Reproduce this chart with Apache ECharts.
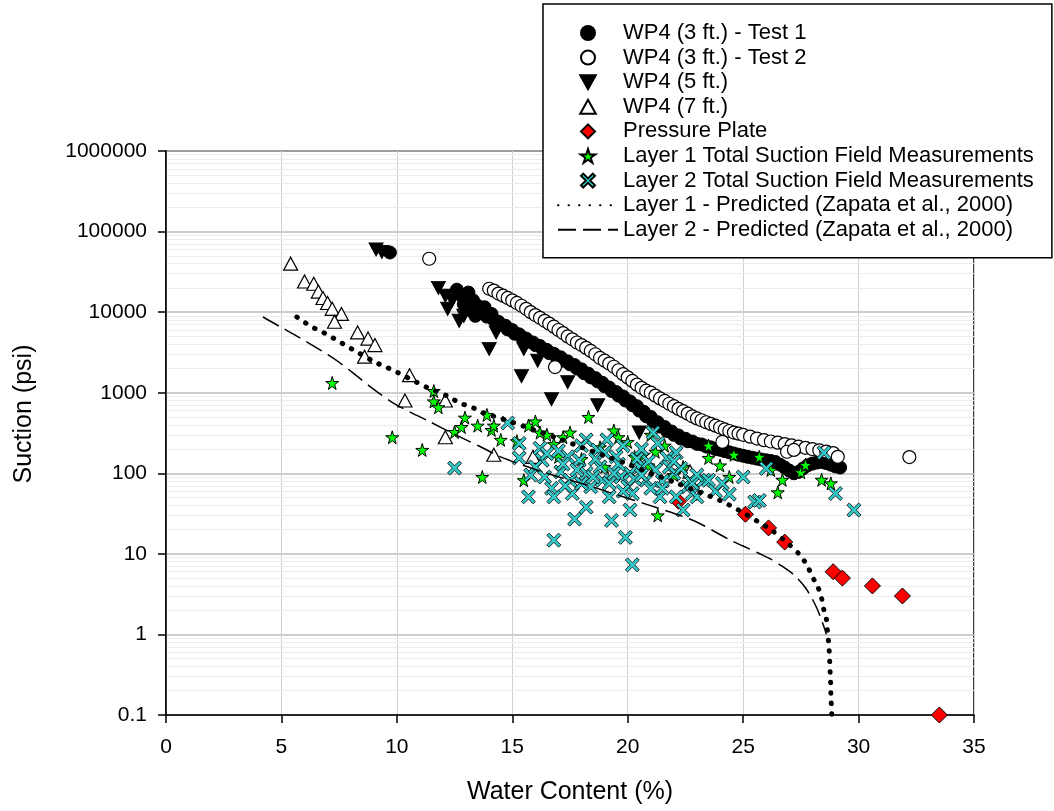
<!DOCTYPE html>
<html>
<head>
<meta charset="utf-8">
<script src="https://cdn.jsdelivr.net/npm/echarts@6/dist/echarts.min.js"></script>
<style>
html,body{margin:0;padding:0;background:#fff;}
#chart{width:1054px;height:811px;}
</style>
</head>
<body>
<div id="chart"></div>
<script>
// ---------- data ----------
const seriesNames = [
  'WP4 (3 ft.) - Test 1',
  'WP4 (3 ft.) - Test 2',
  'WP4 (5 ft.)',
  'WP4 (7 ft.)',
  'Pressure Plate',
  'Layer 1 Total Suction Field Measurements',
  'Layer 2 Total Suction Field Measurements',
  'Layer 1 - Predicted (Zapata et al., 2000)',
  'Layer 2 - Predicted (Zapata et al., 2000)'
];
const xTickLabels = ['0','5','10','15','20','25','30','35'];
const yTickLabels = ['0.1','1','10','100','1000','10000','100000','1000000'];

const wp4Test1 = [
  [9.7,55000],
  [12.6,19000],[12.8,16000],[12.9,12500],[13.1,17500],[13.2,10500],[13.3,14000],[13.4,9000],[13.5,12000],[13.6,10000],
  [13.8,11500],[13.9,8800],[14.1,9500],[14.2,8000],[14.4,7600],[14.5,7000],[14.7,6800],[14.8,6100],[15.0,6000],[15.1,5400],
  [15.3,5300],[15.4,4900],[15.6,4700],[15.7,4300],[15.9,4200],[16.0,3900],[16.2,3800],[16.3,3500],[16.5,3400],[16.6,3100],
  [16.8,3050],[16.9,2800],[17.1,2750],[17.2,2500],[17.4,2450],[17.5,2250],[17.7,2200],[17.8,2000],[18.0,1950],[18.1,1750],
  [18.3,1720],[18.4,1550],[18.6,1520],[18.7,1380],[18.9,1330],[19.0,1200],[19.2,1160],[19.3,1050],[19.5,1020],[19.6,920],
  [19.8,900],[19.9,800],[20.1,780],[20.2,700],[20.4,680],[20.5,600],[20.7,580],[20.8,510],[21.0,500],[21.1,440],
  [21.3,430],[21.4,380],[21.6,375],[21.7,335],[21.9,330],[22.0,300],[22.2,295],[22.3,270],[22.5,268],[22.6,250],
  [22.8,248],[23.0,232],[23.2,228],[23.4,215],[23.6,210],[23.8,200],[24.0,196],[24.2,188],[24.4,182],[24.6,176],
  [24.8,170],[25.0,165],[25.2,160],[25.4,156],[25.6,152],[25.8,148],[26.0,145],[26.2,142],[26.4,138],[26.6,128],
  [26.8,118],[27.0,108],[27.2,100],[27.4,104],[27.6,115],[27.8,126],[28.0,132],[28.2,136],[28.4,138],[28.6,134],
  [28.8,128],[29.0,122],[29.2,118]
];
const wp4Test2 = [
  [11.4,46000],
  [14.0,19500],[14.2,18500],[14.4,17000],[14.6,16000],[14.8,15000],[15.0,14000],[15.2,13000],[15.4,12000],[15.6,11000],
  [15.8,10000],[16.0,9200],[16.2,8500],[16.4,7800],[16.6,7200],[16.8,6600],[17.0,6000],[17.2,5500],[17.4,5000],[17.6,4600],
  [17.8,4200],[18.0,3900],[18.2,3600],[18.4,3300],[18.6,3000],[18.8,2700],[19.0,2500],[19.2,2300],[19.4,2100],[19.6,1900],
  [19.8,1700],[20.0,1550],[20.2,1400],[20.4,1260],[20.6,1150],[20.8,1060],[21.0,1000],[21.2,920],[21.4,850],[21.6,790],
  [21.8,730],[22.0,680],[22.2,630],[22.4,590],[22.6,550],[22.8,510],[23.0,480],[23.2,455],[23.4,430],[23.6,410],
  [23.8,390],[24.0,370],[24.2,350],[24.4,335],[24.6,320],[24.8,310],[25.0,300],[25.3,285],[25.6,270],[25.9,258],
  [26.2,248],[26.5,240],[26.8,230],[27.1,222],[27.4,214],[27.7,207],[28.0,200],[28.3,193],[28.6,186],[28.9,178],
  [29.1,160],
  [16.85,2080],[24.1,245],[26.9,185],[27.2,195],[32.2,159]
];
const wp4Ft5 = [
  [9.1,60000],[9.35,56000],[11.8,20000],[12.1,16000],[12.4,14000],[12.2,11000],[12.9,9000],[12.7,7800],
  [14.3,5600],[14.0,3500],[15.5,3500],[16.1,2500],[15.4,1600],[16.7,830],[17.4,1350],[18.7,700],[20.5,320]
];
const wp4Ft7 = [
  [5.4,40000],[6.0,24000],[6.4,22500],[6.6,18000],[6.8,15000],[7.0,13000],[7.2,11000],[7.6,9500],[7.3,7600],
  [8.3,5600],[8.75,4700],[9.05,3900],[8.6,2800],[10.55,1650],[10.35,800],[12.1,800],[12.1,280],[14.2,170],
  [15.9,160],[22.7,105]
];
const pressurePlate = [
  [22.2,45],[25.1,31],[26.1,21],[26.8,14],[28.9,6],[29.3,5],[30.6,4],[31.9,3],[33.5,0.1]
];
const layer1Field = [
  [7.2,1320],[9.8,280],[11.1,195],[11.6,1050],[11.6,780],[11.8,660],[12.5,325],[12.8,375],[12.95,490],[13.5,390],
  [13.7,90],[13.9,530],[14.1,345],[14.2,390],[14.5,260],[15.5,82],[15.7,390],[16.0,440],[16.2,320],[16.5,300],
  [17.0,160],[17.2,280],[17.5,320],[18.3,500],[19.4,340],[19.6,280],[20.0,245],[20.3,160],[20.7,170],[20.9,125],
  [21.2,185],[21.3,30],[21.6,220],[22.4,120],[23.5,220],[23.5,155],[24.0,125],[24.4,90],[24.6,170],[25.7,160],
  [26.2,110],[26.5,58],[26.7,83],[27.5,103],[27.7,127],[28.4,83],[28.8,75],
  [15.2,250],[16.8,230],[18.0,150],[18.8,210],[19.0,120],[21.0,300],[22.0,95]
];
const layer2Field = [
  [12.5,116],[14.8,420],[15.3,235],[15.3,155],[15.8,95],[15.7,51],[16.2,205],[16.3,145],[16.7,65],[16.8,51],
  [16.8,14.8],[17.1,104],[17.7,27],[18.2,260],[17.9,145],[17.5,82],[17.6,56],[18.2,100],[18.4,68],[18.8,120],
  [18.9,82],[19.1,260],[19.2,51],[19.3,26],[19.5,160],[19.7,90],[20.0,68],[20.1,35],[19.9,16],[20.2,7.3],
  [20.5,120],[20.8,82],[21.1,320],[21.3,235],[21.7,155],[22.1,180],[22.0,100],[22.6,68],[22.4,35],[22.8,56],
  [22.7,82],[21.4,51],[21.0,65],[20.2,56],[18.2,38],[17.4,160],[18.7,195],[19.4,100],[20.1,100],[22.3,115],
  [22.1,51],[22.8,75],[23.3,82],[23.5,82],[23.0,51],[24.4,55],[25.0,90],[25.5,44],[25.7,46],[26.0,115],
  [28.5,180],[29.0,56],[29.8,35],
  [17.2,130],[17.8,110],[18.0,75],[18.5,90],[18.6,150],[19.0,180],[19.2,75],[19.6,130],[19.8,60],[20.3,85],
  [20.4,150],[20.6,95],[20.9,140],[21.2,110],[21.5,80],[21.8,120],[22.0,140],[16.0,120],[16.5,175],[17.0,190],
  [17.3,70],[18.0,220],[19.8,220],[20.6,200],[21.5,65],[23.0,95],[23.8,60],[24.1,75],[16.4,90]
];
const layer1Predicted = [
  [5.67,8700],[6.3,6600],[6.67,5900],[7.0,5200],[7.4,4500],[7.75,3900],[8.2,3300],[9.05,2400],[9.5,2100],[10.0,1800],
  [10.9,1330],[11.35,1150],[12.3,880],[12.7,750],[13.25,660],[13.7,570],[15.0,430],[16.0,340],[17.0,270],[18.0,210],
  [19.0,165],[20.0,130],[21.0,100],[22.0,78],[23.0,60],[24.0,46],[24.8,35],[25.65,25],[26.2,20],[27.0,13],
  [27.5,9.4],[27.8,6.9],[28.0,5.2],[28.25,3.8],[28.4,2.8],[28.5,2.0],[28.6,1.6],[28.65,1.13],[28.7,0.8],[28.73,0.61],
  [28.75,0.46],[28.77,0.33],[28.79,0.25],[28.8,0.18],[28.84,0.1]
];
const layer2Predicted = [
  [4.2,8700],[4.94,6600],[5.8,4800],[6.67,3400],[7.4,2500],[8.1,1760],[9.0,1100],[9.83,750],[10.6,570],[11.4,440],
  [12.4,315],[13.6,215],[14.5,160],[15.5,125],[16.5,100],[17.3,85],[18.2,72],[19.2,58],[20.2,47],[21.3,37],
  [22.4,29],[23.1,24],[24.4,15],[25.0,12.5],[25.7,10.1],[26.2,8.6],[26.7,7.0],[27.1,5.8],[27.4,4.8],[27.7,3.8],
  [27.95,2.9],[28.2,2.1],[28.4,1.5],[28.55,1.13],[28.6,1.0]
];

// ---------- styling helpers ----------
const FONT = '"Liberation Sans", Arial, sans-serif';
const starPath = 'path://M50,0 L61,35 L98,35 L68,57 L79,91 L50,70 L21,91 L32,57 L2,35 L39,35 Z';
const xPath = 'path://M0,1.6 L1.6,0 L5,3.4 L8.4,0 L10,1.6 L6.6,5 L10,8.4 L8.4,10 L5,6.6 L1.6,10 L0,8.4 L3.4,5 Z';
const triDown = 'path://M0,0 L10,0 L5,9 Z';
const triUp = 'path://M5,0 L10,9 L0,9 Z';
const diamondPath = 'path://M5,0 L10,5 L5,10 L0,5 Z';

// minor log gridlines (2..9 per decade)
const minorLines = [];
for (let e = -1; e < 6; e++) {
  for (let m = 2; m <= 9; m++) minorLines.push({ yAxis: m * Math.pow(10, e) });
}

const chart = echarts.init(document.getElementById('chart'), null, { renderer: 'canvas' });

const option = {
  animation: false,
  backgroundColor: '#ffffff',
  textStyle: { fontFamily: FONT, color: '#000' },
  grid: {
    left: 166, right: 80, top: 151, bottom: 96,
    show: true, borderColor: '#000', borderWidth: 1.5, backgroundColor: 'transparent'
  },
  legend: {
    data: seriesNames,
    orient: 'vertical',
    left: 543, top: 4,
    padding: [18, 18, 17, 14],
    itemWidth: 60, itemHeight: 14, itemGap: 2.6,
    backgroundColor: '#fff',
    borderColor: '#000', borderWidth: 1.5,
    textStyle: { fontFamily: FONT, fontSize: 22, color: '#000' },
    selectedMode: false,
    z: 10
  },
  xAxis: {
    type: 'value', min: 0, max: 35, interval: 5,
    name: 'Water Content (%)', nameLocation: 'middle', nameGap: 65,
    nameTextStyle: { fontFamily: FONT, fontSize: 25, color: '#000' },
    axisLine: { show: true, onZero: false, lineStyle: { color: '#000', width: 1.5 } },
    axisTick: { show: true, inside: false, length: 8, lineStyle: { color: '#000', width: 1.5 } },
    axisLabel: { margin: 22, fontFamily: FONT, fontSize: 21, color: '#000',
      formatter: v => xTickLabels[Math.round(v / 5)] },
    splitLine: { show: true, lineStyle: { color: '#d0d0d0', width: 1 } }
  },
  yAxis: {
    type: 'log', logBase: 10, min: 0.1, max: 1000000, splitNumber: 7,
    name: 'Suction (psi)', nameLocation: 'middle', nameGap: 129,
    nameTextStyle: { fontFamily: FONT, fontSize: 25, color: '#000', padding: [0, 0, 0, 38] },
    axisLine: { show: true, onZero: false, lineStyle: { color: '#000', width: 1.5 } },
    axisTick: { show: true, inside: false, length: 8, lineStyle: { color: '#000', width: 1.5 } },
    axisLabel: { margin: 19, fontFamily: FONT, fontSize: 21, color: '#000',
      formatter: v => yTickLabels[Math.round(Math.log10(v)) + 1] },
    splitLine: { show: true, lineStyle: { color: '#bdbdbd', width: 1.5 } },
    minorTick: { show: false }, minorSplitLine: { show: false }
  },
  series: [
    {
      name: '__minor', type: 'scatter', data: [], z: 0, silent: true,
      markLine: {
        z: 0, silent: true, symbol: ['none', 'none'], label: { show: false },
        lineStyle: { color: '#ececec', width: 1, type: 'solid' },
        data: minorLines, animation: false
      }
    },
    {
      name: seriesNames[0], type: 'scatter', data: wp4Test1, symbol: 'circle', symbolSize: 13,
      itemStyle: { color: '#000', borderColor: '#000', borderWidth: 1, opacity: 1 }, z: 3
    },
    {
      name: seriesNames[1], type: 'scatter', data: wp4Test2, symbol: 'circle', symbolSize: 13,
      itemStyle: { color: '#fff', borderColor: '#000', borderWidth: 1.2, opacity: 1 }, z: 3
    },
    {
      name: seriesNames[2], type: 'scatter', data: wp4Ft5, symbol: triDown, symbolSize: [14, 13],
      itemStyle: { color: '#000', borderColor: '#000', borderWidth: 1, opacity: 1 }, z: 3
    },
    {
      name: seriesNames[3], type: 'scatter', data: wp4Ft7, symbol: triUp, symbolSize: [14, 13],
      itemStyle: { color: '#fff', borderColor: '#000', borderWidth: 1.2, opacity: 1 }, z: 3
    },
    {
      name: seriesNames[4], type: 'scatter', data: pressurePlate, symbol: diamondPath, symbolSize: 16,
      itemStyle: { color: '#ff0000', borderColor: '#000', borderWidth: 1, opacity: 1 }, z: 3
    },
    {
      name: seriesNames[5], type: 'scatter', data: layer1Field, symbol: starPath, symbolSize: 13,
      itemStyle: { color: '#00ff00', borderColor: '#000', borderWidth: 1, opacity: 1 }, z: 3
    },
    {
      name: seriesNames[6], type: 'scatter', data: layer2Field, symbol: xPath, symbolSize: 14,
      itemStyle: { color: '#33c9c9', borderColor: '#000', borderWidth: 0.8, opacity: 1 }, z: 3
    },
    {
      name: seriesNames[7], type: 'line', data: layer1Predicted, symbol: 'none', showSymbol: false,
      smooth: 0.3,
      itemStyle: { color: 'rgba(0,0,0,0)', borderWidth: 0 },
      lineStyle: { color: '#000', width: 5, type: [0.5, 10], cap: 'round' }, z: 4
    },
    {
      name: seriesNames[8], type: 'line', data: layer2Predicted, symbol: 'none', showSymbol: false,
      smooth: 0.3,
      itemStyle: { color: 'rgba(0,0,0,0)', borderWidth: 0 },
      lineStyle: { color: '#000', width: 1.5, type: [18, 7] }, z: 4
    }
  ]
};
chart.setOption(option);
</script>
</body>
</html>
